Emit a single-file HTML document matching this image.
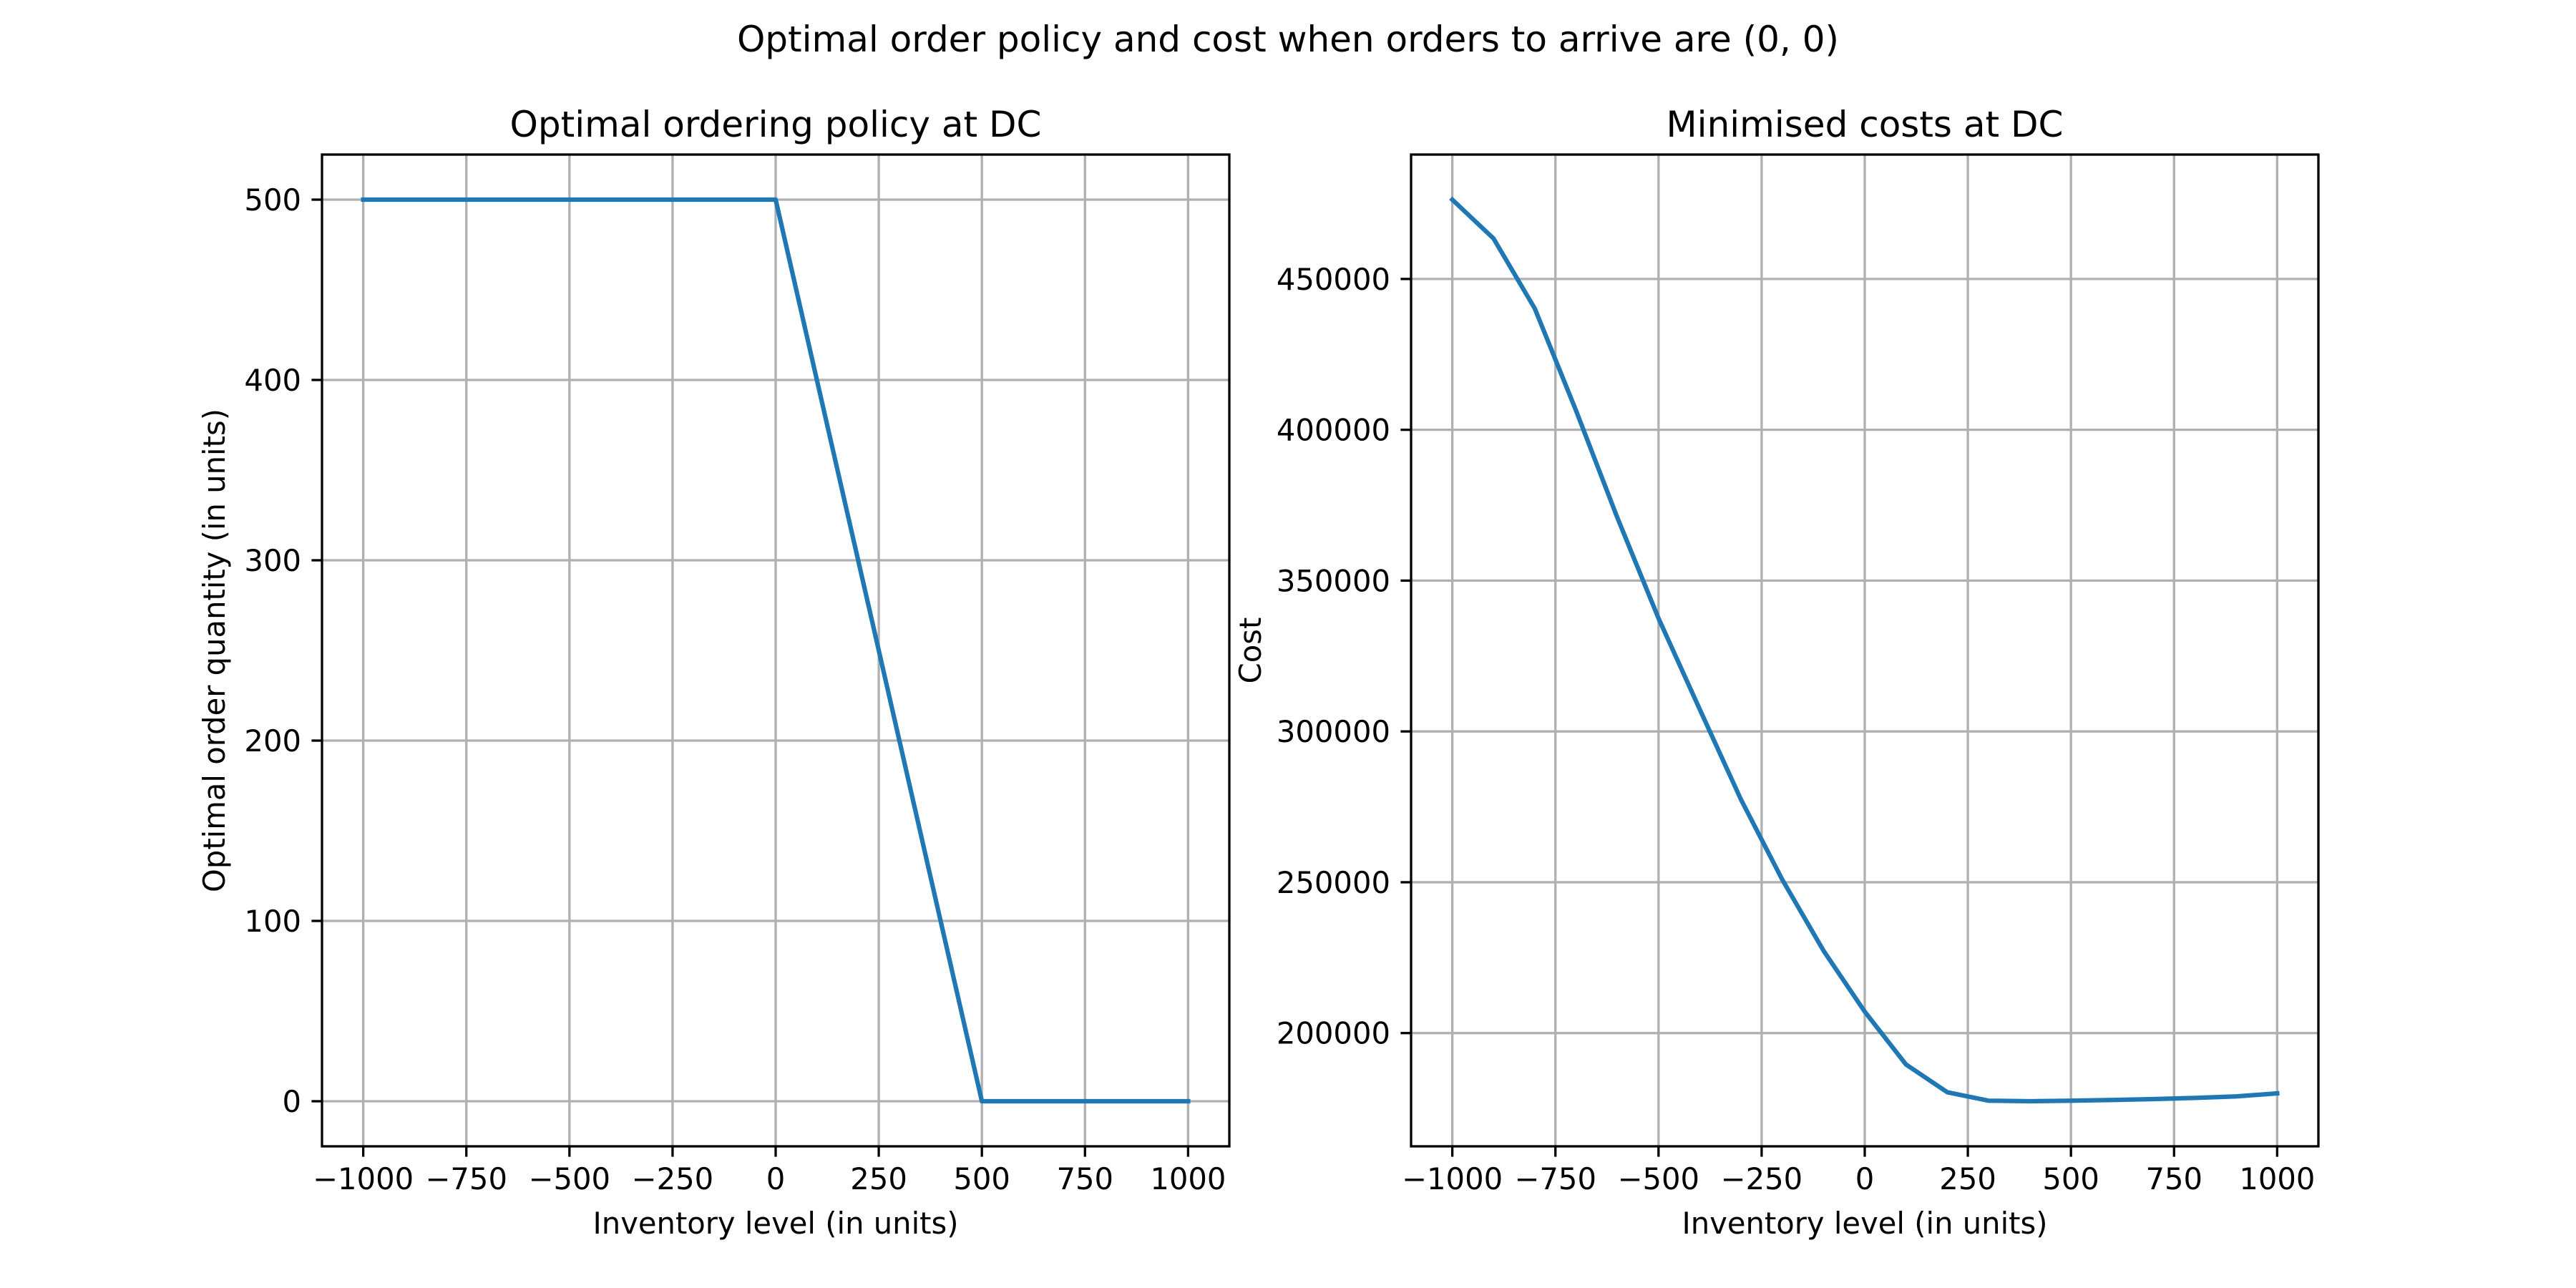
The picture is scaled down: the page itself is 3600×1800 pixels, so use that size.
<!DOCTYPE html>
<html><head><meta charset="utf-8"><style>
html,body{margin:0;padding:0;background:#fff;}
svg{display:block;}
text{font-family:"DejaVu Sans","Liberation Sans",sans-serif;fill:#000;}
</style></head>
<body>
<svg id="fig" width="3600" height="1800" viewBox="0 0 3600 1800" xmlns="http://www.w3.org/2000/svg">
<rect width="3600" height="1800" fill="#fff"/>
<text x="1800" y="72" font-size="50" text-anchor="middle">Optimal order policy and cost when orders to arrive are (0, 0)</text>
</svg>
<script>
const inventoryLevels = [-1000,-900,-800,-700,-600,-500,-400,-300,-200,-100,0,100,200,300,400,500,600,700,800,900,1000];
const orderQuantities = [500,500,500,500,500,500,500,500,500,500,500,400,300,200,100,0,0,0,0,0,0];
const minimisedCosts = [476300,463400,440200,406400,370900,337500,307300,277400,250900,227300,207100,189600,180400,177600,177400,177600,177800,178100,178500,179000,180000];
const xTicks = [-1000,-750,-500,-250,0,250,500,750,1000];
const leftYTicks = [0,100,200,300,400,500];
const rightYTicks = [200000,250000,300000,350000,400000,450000];

const NS = 'http://www.w3.org/2000/svg';
const svg = document.getElementById('fig');
function mk(tag, attrs, parent){const e=document.createElementNS(NS,tag);for(const k in attrs)e.setAttribute(k,attrs[k]);(parent||svg).appendChild(e);return e;}
function fmt(v){return v<0?'\u2212'+Math.abs(v):String(v);}

function drawPanel(cfg){
  const L=cfg.left,R=cfg.left+1268,T=216,B=1602;
  const ys=cfg.ys;
  let mn=Math.min(...ys),mx=Math.max(...ys),rg=mx-mn;
  const y0=mn-0.05*rg,y1=mx+0.05*rg;
  const x0=-1100,x1=1100;
  const sx=v=>L+(v-x0)/(x1-x0)*(R-L);
  const sy=v=>B-(v-y0)/(y1-y0)*(B-T);
  const g=mk('g',{});
  
  
  for(const t of xTicks){
    const X=sx(t);
    const gl=mk('line',{x1:X,x2:X,y1:T,y2:B,stroke:'#b0b0b0','stroke-width':3.3},g);
    
    
    mk('line',{x1:X,x2:X,y1:B,y2:B+14.6,stroke:'#000','stroke-width':3.3},g);
    const tx=mk('text',{x:X,y:1662,'font-size':41.7,'text-anchor':'middle'},g);
    tx.textContent=fmt(t);
    
    
  }
  for(const t of cfg.yTicks){
    const Y=sy(t);
    const gl=mk('line',{x1:L,x2:R,y1:Y,y2:Y,stroke:'#b0b0b0','stroke-width':3.3},g);
    
    
    mk('line',{x1:L-14.6,x2:L,y1:Y,y2:Y,stroke:'#000','stroke-width':3.3},g);
    const tx=mk('text',{x:L-29,y:Y+15,'font-size':41.7,'text-anchor':'end'},g);
    tx.textContent=fmt(t);
    
    
  }
  const pts=inventoryLevels.map((x,i)=>sx(x).toFixed(1)+','+sy(ys[i]).toFixed(1)).join(' ');
  const pl=mk('polyline',{points:pts,fill:'none',stroke:'#1f77b4','stroke-width':6.25,'stroke-linejoin':'round','stroke-linecap':'square'},g);
  
  
  const fr=mk('rect',{x:L,y:T,width:R-L,height:B-T,fill:'none',stroke:'#000','stroke-width':3.3},g);
  
  
  const ti=mk('text',{x:(L+R)/2,y:191,'font-size':50,'text-anchor':'middle'},g);
  ti.textContent=cfg.title;
  
  
  const xl=mk('text',{x:(L+R)/2,y:1724,'font-size':41.7,'text-anchor':'middle'},g);
  xl.textContent='Inventory level (in units)';
  
  
  const yl=mk('text',{x:0,y:0,'font-size':41.7,'text-anchor':'middle',transform:'translate('+(cfg.ylabelX)+','+((T+B)/2)+') rotate(-90)'},g);
  yl.textContent=cfg.ylabel;
  
  
}
drawPanel({name:'policy-panel',lineName:'order-quantity-line',left:450,ys:orderQuantities,yTicks:leftYTicks,title:'Optimal ordering policy at DC',ylabel:'Optimal order quantity (in units)',ylabelX:314});
drawPanel({name:'cost-panel',lineName:'cost-line',left:1972,ys:minimisedCosts,yTicks:rightYTicks,title:'Minimised costs at DC',ylabel:'Cost',ylabelX:1762});
</script>
</body></html>
